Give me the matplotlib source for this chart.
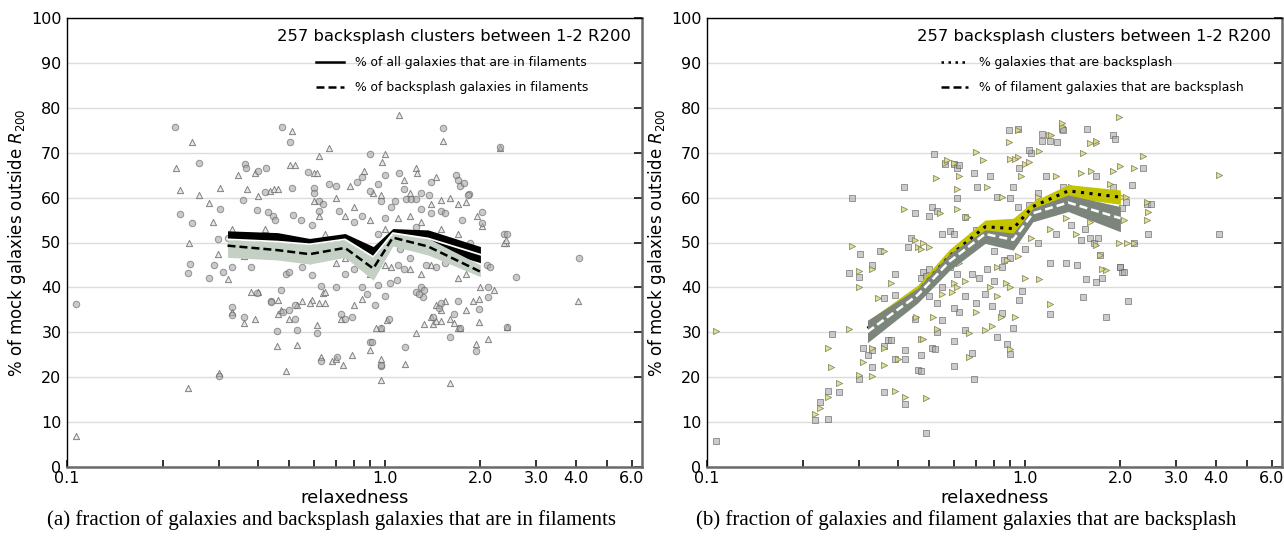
import matplotlib
matplotlib.use("Agg")
import matplotlib.pyplot as plt
from matplotlib.lines import Line2D
import numpy as np

# ---------------- data ----------------
bin_x = [0.32, 0.46, 0.58, 0.75, 0.92, 1.06, 1.37, 2.0]

# left panel bands
all_fil_mid = [50.7, 50.2, 49.6, 50.7, 46.8, 52.1, 50.9, 47.3]
all_fil_hi = [52.6, 52.2, 50.9, 52.0, 49.1, 53.1, 52.8, 49.1]
all_fil_lo = [48.8, 48.2, 48.3, 49.4, 44.5, 51.1, 49.0, 45.5]
bs_fil_mid = [49.3, 48.3, 47.4, 48.8, 44.2, 51.1, 49.1, 43.5]
bs_fil_hi = [50.7, 50.2, 49.6, 50.7, 46.8, 52.3, 50.9, 45.0]
bs_fil_lo = [46.7, 46.1, 45.2, 46.7, 41.6, 49.2, 47.2, 42.4]

# right panel bands
gal_bs_mid = [30.9, 39.0, 47.0, 53.5, 53.1, 58.0, 61.5, 60.1]
gal_bs_hi = [32.5, 40.5, 48.5, 55.0, 55.4, 59.1, 62.9, 61.7]
gal_bs_lo = [29.3, 37.5, 45.5, 52.0, 50.8, 56.9, 60.1, 58.5]
fil_bs_mid = [30.1, 38.3, 45.8, 51.9, 50.6, 56.5, 58.9, 55.4]
fil_bs_hi = [32.7, 39.8, 47.5, 52.8, 52.1, 57.6, 60.6, 58.0]
fil_bs_lo = [27.7, 36.5, 43.8, 49.8, 48.3, 54.6, 56.9, 52.4]

# left panel scatter: circles (all galaxies in filaments)
left_circles = [
    (0.107, 36.3), (0.219, 75.8), (0.226, 56.3), (0.248, 54.3), (0.26, 67.8), (0.303, 57.5),
    (0.298, 50.7), (0.243, 45.2), (0.24, 43.1), (0.28, 42), (0.29, 45), (0.31, 43.5), (0.33, 44.6),
    (0.33, 35.7), (0.33, 33.8), (0.36, 33.3), (0.397, 38.7), (0.30, 20.3), (0.363, 67.4), (0.365, 66.6),
    (0.40, 66.0), (0.423, 66.5), (0.358, 59.5), (0.395, 57.2), (0.42, 61.3), (0.43, 56.7), (0.445, 55.9),
    (0.45, 55.0), (0.475, 75.8), (0.503, 72.3), (0.51, 62.1), (0.515, 56.1), (0.545, 55.0), (0.575, 65.6),
    (0.6, 62.2), (0.6, 61.0), (0.62, 57.0), (0.59, 54.0), (0.32, 51.0), (0.457, 30.3), (0.44, 37.0),
    (0.47, 39.5), (0.49, 43.0), (0.5, 43.5), (0.52, 36.0), (0.53, 30.5), (0.59, 42.8), (0.61, 29.8),
    (0.63, 23.5), (0.63, 40.3), (0.73, 34.0), (0.75, 33.0), (0.79, 33.5), (0.71, 24.5), (0.9, 27.9),
    (0.97, 22.6), (0.97, 31.0), (1.03, 33.0), (1.16, 26.8), (1.42, 33.4), (1.48, 35.5), (1.50, 36.5),
    (1.6, 29.0), (1.72, 31.0), (1.94, 25.9), (1.98, 35.3), (2.12, 40.0), (2.42, 31.2), (2.58, 42.4),
    (4.1, 46.5), (1.53, 75.6), (2.3, 71.3), (0.9, 69.7), (1.11, 65.5), (1.68, 65.0), (1.70, 64.0),
    (1.72, 62.5), (1.84, 60.8), (2.03, 56.7), (2.38, 52.0), (2.42, 52.0), (1.78, 63.2), (1.83, 60.6),
    (2.03, 54.3), (0.62, 59.2), (0.64, 58.5), (0.97, 59.2), (1.05, 57.9), (1.08, 59.3), (1.17, 59.7),
    (1.21, 59.7), (1.25, 59.7), (1.3, 57.5), (1.4, 56.5), (1.5, 57.0), (1.55, 56.5), (0.44, 36.8),
    (0.48, 34.5), (0.5, 35.0), (0.52, 33.0), (0.915, 27.9), (0.97, 22.7), (1.04, 41.0), (1.09, 41.6),
    (1.32, 37.9), (1.25, 39.0), (1.28, 38.5), (1.3, 40.0), (1.33, 39.5), (1.65, 34.0), (1.7, 37.0),
    (2.12, 37.8), (0.7, 40.0), (0.75, 43.0), (0.8, 44.0), (0.85, 40.0), (0.88, 38.5), (0.93, 36.0),
    (0.95, 40.5), (1.0, 38.0), (1.1, 45.0), (1.15, 44.0), (1.2, 46.5), (1.35, 45.0), (1.45, 44.5),
    (1.55, 45.5), (1.75, 46.0), (1.9, 44.0), (2.1, 45.0), (2.15, 44.5), (0.66, 47.0), (0.7, 50.5),
    (0.8, 54.5), (0.85, 56.0), (0.95, 52.0), (1.0, 55.5), (1.12, 48.5), (1.25, 53.5), (1.45, 51.5),
    (1.6, 50.0), (1.75, 55.0), (1.85, 50.0), (0.38, 44.5), (0.4, 48.0), (0.55, 44.5), (0.58, 46.0),
    (0.62, 48.5), (0.67, 63.0), (0.7, 62.5), (0.72, 57.0), (0.82, 63.5), (0.85, 64.5), (0.9, 61.5),
    (0.95, 63.0), (1.0, 65.0), (1.15, 62.0), (1.3, 61.0), (1.4, 63.5), (1.38, 60.5),
]
# left panel scatter: triangles (backsplash galaxies in filaments)
left_triangles = [
    (0.107, 7.0), (0.22, 66.5), (0.248, 72.3), (0.226, 61.8), (0.26, 60.6), (0.242, 50.0), (0.28, 58.7),
    (0.303, 62.2), (0.288, 54.6), (0.298, 47.4), (0.346, 65.0), (0.39, 65.4), (0.368, 62.0), (0.435, 61.5),
    (0.447, 62.0), (0.46, 62.0), (0.40, 60.3), (0.51, 74.9), (0.503, 67.3), (0.52, 67.2), (0.62, 69.3),
    (0.6, 65.5), (0.61, 65.5), (0.6, 59.3), (0.62, 56.0), (0.33, 53.0), (0.24, 17.5), (0.32, 41.8),
    (0.33, 34.5), (0.36, 32.0), (0.39, 33.0), (0.38, 39.0), (0.30, 21.0), (0.457, 27.0), (0.46, 37.2),
    (0.49, 21.4), (0.53, 27.2), (0.59, 37.2), (0.61, 31.6), (0.63, 24.6), (0.64, 38.8), (0.647, 39.0),
    (0.62, 36.5), (0.65, 36.5), (0.73, 33.0), (0.74, 22.7), (0.79, 25.0), (0.9, 26.0), (0.97, 24.0),
    (0.97, 19.4), (0.97, 31.0), (1.16, 23.0), (1.25, 29.8), (1.33, 31.8), (1.42, 31.8), (1.45, 32.5),
    (1.5, 32.5), (1.6, 33.0), (1.65, 32.0), (1.7, 31.0), (1.6, 18.8), (1.72, 31.0), (1.94, 27.5),
    (1.98, 32.2), (1.98, 37.5), (2.12, 28.5), (2.42, 31.2), (4.06, 37.0), (1.11, 78.4), (1.53, 72.5),
    (2.3, 71.0), (0.67, 71.1), (1.0, 69.6), (1.25, 66.5), (1.26, 65.5), (2.4, 49.8), (2.38, 49.8),
    (0.92, 61.0), (0.97, 60.5), (1.4, 58.5), (1.5, 59.5), (1.6, 60.0), (1.7, 58.5), (1.8, 59.0),
    (2.03, 53.7), (0.4, 39.0), (0.46, 34.0), (0.5, 33.0), (0.47, 35.0), (0.53, 36.0), (0.55, 37.0),
    (0.58, 36.5), (0.68, 23.5), (0.7, 24.0), (0.8, 36.0), (0.85, 37.5), (0.94, 31.0), (1.02, 32.7),
    (1.4, 33.5), (1.45, 36.0), (1.5, 35.0), (1.55, 37.0), (1.8, 35.0), (1.9, 37.0), (0.7, 45.5),
    (0.75, 46.5), (0.85, 45.0), (0.9, 43.0), (0.95, 45.5), (1.0, 45.0), (1.05, 44.5), (1.2, 44.0),
    (1.3, 43.0), (1.4, 45.0), (1.7, 42.0), (1.8, 43.0), (2.0, 40.0), (2.2, 39.5), (0.6, 49.0),
    (0.65, 52.0), (0.75, 56.0), (0.8, 58.0), (0.9, 55.0), (1.0, 53.0), (1.1, 55.5), (1.2, 56.0),
    (1.3, 54.5), (1.5, 53.0), (1.7, 52.0), (1.95, 56.0), (0.42, 53.0), (0.5, 51.0), (0.36, 47.0),
    (0.7, 60.0), (0.78, 62.5), (0.86, 66.0), (0.98, 68.0), (1.15, 64.0), (1.45, 64.5), (1.2, 61.0),
    (2.4, 50.5),
]
# right panel scatter: squares (galaxies that are backsplash)
right_squares = [
    (0.107, 5.9), (0.219, 10.4), (0.227, 14.5), (0.24, 10.8), (0.24, 17.0), (0.248, 29.6), (0.26, 16.7),
    (0.28, 43.1), (0.3, 42.3), (0.3, 19.6), (0.31, 26.5), (0.32, 25.0), (0.33, 45.0), (0.33, 22.2),
    (0.33, 26.0), (0.36, 37.6), (0.36, 16.8), (0.36, 27.0), (0.37, 28.3), (0.38, 28.3), (0.39, 38.3),
    (0.39, 24.0), (0.39, 43.0), (0.42, 14.0), (0.42, 24.0), (0.42, 26.0), (0.46, 21.6), (0.47, 21.3),
    (0.49, 7.6), (0.47, 25.0), (0.51, 26.6), (0.52, 26.2), (0.53, 30.0), (0.53, 36.5), (0.55, 32.8),
    (0.6, 22.4), (0.61, 43.0), (0.62, 34.5), (0.6, 35.5), (0.286, 60.0), (0.303, 47.4), (0.35, 48.0),
    (0.417, 62.3), (0.453, 56.5), (0.43, 49.0), (0.44, 51.0), (0.517, 69.7), (0.5, 56.0), (0.51, 58.0),
    (0.53, 57.0), (0.55, 52.0), (0.58, 52.5), (0.6, 52.0), (0.56, 67.5), (0.6, 67.5), (0.61, 66.5),
    (0.61, 60.0), (0.47, 42.0), (0.48, 43.5), (0.5, 44.0), (0.49, 42.5), (0.69, 19.6), (0.68, 25.3),
    (0.82, 28.9), (0.88, 27.5), (0.9, 25.1), (0.92, 30.9), (0.85, 34.2), (0.79, 35.9), (0.96, 37.3),
    (0.98, 39.3), (1.2, 34.1), (1.53, 37.8), (1.8, 33.3), (2.12, 37.0), (1.56, 41.8), (1.68, 41.3),
    (1.75, 42.0), (2.03, 43.5), (1.99, 44.6), (0.68, 43.0), (0.72, 42.0), (0.76, 44.0), (0.8, 41.5),
    (0.85, 44.5), (1.2, 45.5), (1.35, 45.5), (1.46, 45.0), (1.31, 75.2), (1.57, 75.3), (1.9, 74.0),
    (1.92, 73.0), (0.89, 75.0), (0.95, 75.3), (1.13, 72.5), (1.2, 72.5), (1.26, 72.3), (1.05, 70.0),
    (1.03, 70.6), (2.35, 66.5), (2.17, 62.8), (2.08, 59.0), (2.03, 57.7), (2.42, 58.6), (2.5, 58.6),
    (2.45, 52.0), (2.2, 49.9), (1.5, 50.5), (1.6, 51.0), (1.65, 50.0), (1.7, 51.0), (1.72, 47.2),
    (2.0, 44.5), (2.05, 43.5), (4.08, 51.8), (0.62, 67.3), (0.69, 65.4), (0.78, 64.7), (0.96, 66.5),
    (1.13, 74.1), (1.32, 75.0), (0.71, 62.4), (0.82, 60.2), (0.92, 62.4), (1.03, 58.4), (1.17, 64.7),
    (1.32, 62.4), (1.49, 60.2), (1.68, 64.7), (1.9, 62.4), (0.65, 55.7), (0.7, 52.8), (0.75, 50.6),
    (0.8, 48.0), (0.86, 46.0), (0.9, 46.5), (1.0, 48.5), (1.1, 50.0), (1.25, 52.0), (1.4, 54.0),
    (1.55, 53.0), (0.95, 58.0), (0.9, 60.0), (1.1, 61.0), (0.45, 33.0), (0.5, 38.0), (0.55, 40.0),
    (0.58, 44.5), (0.65, 38.0), (0.7, 36.5), (0.75, 38.5), (0.6, 28.0), (0.65, 30.5),
]
# right panel scatter: triangles (filament galaxies that are backsplash)
right_triangles = [
    (0.107, 30.2), (0.218, 11.8), (0.227, 13.2), (0.24, 15.5), (0.24, 26.4), (0.246, 22.2), (0.26, 18.8),
    (0.28, 30.7), (0.3, 43.6), (0.3, 40.2), (0.3, 20.6), (0.31, 23.3), (0.33, 44.0), (0.33, 20.2),
    (0.33, 26.4), (0.345, 37.7), (0.36, 26.5), (0.36, 22.7), (0.38, 41.0), (0.39, 17.0), (0.42, 15.7),
    (0.4, 24.0), (0.456, 33.3), (0.49, 15.3), (0.47, 28.4), (0.48, 28.6), (0.515, 33.3), (0.53, 30.8),
    (0.59, 39.0), (0.6, 41.0), (0.61, 40.0), (0.286, 49.3), (0.36, 48.0), (0.417, 57.5), (0.45, 50.6),
    (0.46, 49.0), (0.525, 64.4), (0.54, 56.5), (0.56, 67.8), (0.6, 67.8), (0.61, 62.0), (0.61, 57.4),
    (0.47, 48.5), (0.48, 50.0), (0.5, 49.0), (0.67, 24.5), (0.67, 29.8), (0.79, 31.5), (0.84, 33.5),
    (0.9, 26.3), (0.82, 38.1), (0.87, 41.0), (0.93, 33.5), (1.2, 36.2), (1.8, 43.9), (1.11, 41.8),
    (1.98, 77.9), (1.31, 76.0), (0.95, 75.0), (0.89, 72.3), (1.19, 74.0), (1.21, 74.0), (1.6, 72.2),
    (1.68, 72.2), (0.9, 68.5), (0.95, 69.0), (1.0, 67.5), (1.03, 68.0), (2.35, 69.3), (1.9, 66.0),
    (2.0, 67.0), (2.2, 66.5), (2.02, 60.1), (2.08, 60.1), (2.42, 59.0), (2.42, 55.0), (2.45, 56.8),
    (1.98, 49.9), (2.1, 49.9), (2.2, 49.9), (2.05, 55.0), (1.68, 49.5), (1.72, 47.2), (1.75, 44.0),
    (4.08, 65.0), (0.7, 70.2), (0.57, 68.4), (0.74, 68.4), (0.93, 68.7), (1.11, 70.4), (1.52, 70.0),
    (1.68, 72.5), (1.31, 76.7), (0.62, 64.7), (0.76, 62.4), (0.85, 60.2), (0.97, 64.7), (1.1, 60.2),
    (1.25, 64.7), (1.4, 62.4), (1.5, 65.5), (1.62, 66.0), (1.75, 60.2), (1.85, 63.0), (0.66, 55.7),
    (0.72, 52.8), (0.8, 50.6), (0.88, 46.0), (0.95, 47.0), (1.05, 51.0), (1.2, 53.0), (1.35, 55.5),
    (1.45, 52.0), (1.6, 54.5), (0.82, 44.5), (0.9, 40.0), (1.0, 42.0), (0.45, 37.0), (0.55, 38.5),
    (0.58, 46.5), (0.62, 45.5), (0.65, 41.5), (0.7, 34.5), (0.75, 30.5), (0.78, 40.0),
]

x_major = [0.1, 1.0, 2.0, 3.0, 4.0, 6.0]
x_major_labels = ["0.1", "1.0", "2.0", "3.0", "4.0", "6.0"]
x_minor = [0.2, 0.3, 0.4, 0.5, 0.6, 0.7, 0.8, 0.9, 5.0]
y_ticks = [0, 10, 20, 30, 40, 50, 60, 70, 80, 90, 100]

title_text = "257 backsplash clusters between 1-2 R200"
ylabel_text = "% of mock galaxies outside $R_{200}$"
xlabel_text = "relaxedness"
caption_a = "(a) fraction of galaxies and backsplash galaxies that are in filaments"
caption_b = "(b) fraction of galaxies and filament galaxies that are backsplash"

# ---------------- plotting ----------------
W, H = 1284, 541
fig = plt.figure(figsize=(W / 100, H / 100), dpi=100)
axL = fig.add_axes([67 / W, (H - 467) / H, 575 / W, 449 / H])
axR = fig.add_axes([707 / W, (H - 467) / H, 575 / W, 449 / H])


def style_axes(ax):
    ax.set_xscale("log")
    ax.set_xlim(0.1, 6.45)
    ax.set_ylim(0, 100)
    ax.set_xticks(x_major)
    ax.set_xticklabels(x_major_labels)
    ax.set_xticks(x_minor, minor=True)
    ax.xaxis.set_minor_formatter(matplotlib.ticker.NullFormatter())
    ax.set_yticks(y_ticks)
    ax.grid(axis="y", color="#dcdcdc", lw=1.0, zorder=0)
    ax.set_axisbelow(True)
    ax.tick_params(axis="x", which="both", direction="in", length=5, width=1.3,
                   top=False, bottom=True, labelsize=11.5, color="#222222", pad=3)
    ax.tick_params(axis="y", which="both", direction="in", length=6, width=1.3,
                   left=False, right=True, labelleft=True, labelright=False,
                   labelsize=11.5, color="#222222", pad=4)
    for s in ("top", "left"):
        ax.spines[s].set_color("black")
        ax.spines[s].set_linewidth(1.0)
    for s in ("bottom", "right"):
        ax.spines[s].set_color("#6a6a6a")
        ax.spines[s].set_linewidth(1.8)
    ax.set_xlabel(xlabel_text, fontsize=13, labelpad=2)
    ax.set_ylabel(ylabel_text, fontsize=12, labelpad=2)
    ax.text(0.981, 0.958, title_text, transform=ax.transAxes, ha="right", va="center",
            fontsize=11.8)


for ax in (axL, axR):
    style_axes(ax)

# left panel
lc = np.array(left_circles)
lt = np.array(left_triangles)
axL.scatter(lt[:, 0], lt[:, 1], marker="^", s=20, facecolor="#e4e4e4", edgecolor="#6e6e6e",
            linewidths=0.7, alpha=0.85, zorder=2)
axL.scatter(lc[:, 0], lc[:, 1], marker="o", s=22, facecolor="#a8a8a8", edgecolor="#5a5a5a",
            linewidths=0.7, alpha=0.6, zorder=2)
axL.fill_between(bin_x, all_fil_lo, all_fil_hi, color="black", lw=0, zorder=3)
axL.fill_between(bin_x, bs_fil_lo, bs_fil_hi, color="#c3d0c3", lw=0, zorder=4)
axL.plot(bin_x, all_fil_mid, color="white", lw=1.3, zorder=5)
axL.plot(bin_x, bs_fil_mid, color="black", lw=1.8, ls=(0, (3.2, 1.6)), zorder=6)

handlesL = [Line2D([], [], color="black", lw=1.8, ls="-"),
            Line2D([], [], color="black", lw=1.8, ls=(0, (3.2, 1.6)))]
axL.legend(handlesL, ["% of all galaxies that are in filaments",
                      "% of backsplash galaxies in filaments"],
           loc="center", bbox_to_anchor=(0.67, 0.873), frameon=False, fontsize=8.9,
           handlelength=2.2, handletextpad=0.9, labelspacing=0.95, borderpad=0)

# right panel
rs = np.array(right_squares)
rt = np.array(right_triangles)
axR.scatter(rs[:, 0], rs[:, 1], marker="s", s=22, facecolor="#a9a9a9", edgecolor="#5e5e5e",
            linewidths=0.7, alpha=0.6, zorder=2)
axR.scatter(rt[:, 0], rt[:, 1], marker=">", s=20, facecolor="#dcdc7a", edgecolor="#7a7a60",
            linewidths=0.6, alpha=0.85, zorder=2)
axR.fill_between(bin_x, gal_bs_lo, gal_bs_hi, color="#c4c400", lw=0, zorder=3)
axR.plot(bin_x, gal_bs_mid, color="black", lw=2.2, ls=(0, (1, 1.8)), zorder=4)
axR.fill_between(bin_x, fil_bs_lo, fil_bs_hi, color="#7c857c", lw=0, zorder=5)
axR.plot(bin_x, fil_bs_mid, color="white", lw=1.8, ls=(0, (3.2, 1.6)), zorder=6)

handlesR = [Line2D([], [], color="black", lw=1.8, ls=(0, (1, 1.8))),
            Line2D([], [], color="black", lw=1.8, ls=(0, (3.2, 1.6)))]
axR.legend(handlesR, ["% galaxies that are backsplash",
                      "% of filament galaxies that are backsplash"],
           loc="center", bbox_to_anchor=(0.67, 0.873), frameon=False, fontsize=8.9,
           handlelength=2.2, handletextpad=0.9, labelspacing=0.95, borderpad=0)

# captions
fig.text(332 / W, 1 - 520 / H, caption_a, ha="center", va="center",
         family=["Liberation Serif", "DejaVu Serif"], fontsize=15)
fig.text(966 / W, 1 - 520 / H, caption_b, ha="center", va="center",
         family=["Liberation Serif", "DejaVu Serif"], fontsize=15)

fig.savefig("out.png", dpi=100)
